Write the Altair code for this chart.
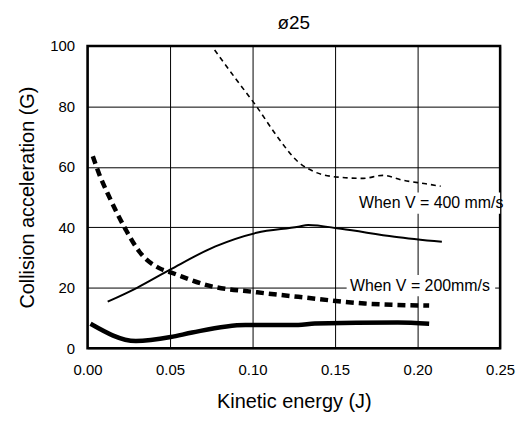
import altair as alt
import pandas as pd

# V = 400 mm/s, thin dashed
x400d = [0.077, 0.090, 0.1024, 0.115, 0.1277, 0.137, 0.152, 0.167, 0.179, 0.191, 0.205, 0.214]
y400d = [98.7, 89.0, 80.0, 70.0, 61.6, 58.5, 56.6, 56.2, 57.2, 55.6, 54.4, 53.6]
# V = 400 mm/s, thin solid
x400s = [0.0122, 0.030, 0.050, 0.0775, 0.1024, 0.1277, 0.1337, 0.1536, 0.186, 0.2147]
y400s = [15.4, 20.0, 26.0, 33.7, 38.2, 40.2, 40.8, 39.5, 36.9, 35.2]
# V = 200 mm/s, thick dashed
x200d = [0.0032, 0.0072, 0.0122, 0.0233, 0.0313, 0.0434, 0.0504, 0.0735, 0.1028, 0.1277, 0.1679, 0.207]
y200d = [63.5, 57.4, 51.2, 39.1, 32.0, 26.5, 25.1, 20.7, 18.5, 17.0, 14.8, 14.1]
# V = 200 mm/s, thick solid
x200s = [0.0018, 0.0293, 0.0504, 0.0634, 0.0956, 0.1277, 0.1377, 0.188, 0.207]
y200s = [8.1, 2.4, 3.7, 5.2, 7.7, 7.7, 8.2, 8.5, 8.1]

label_text = ["When V = 400 mm/s", "When V = 200mm/s"]
label_x = [0.1645, 0.159]
label_y = [48.0, 20.7]

FONT = "Liberation Sans"

def df(xs, ys):
    return pd.DataFrame({"x": xs, "y": ys})

xsc = alt.Scale(domain=[0, 0.25], nice=False)
ysc = alt.Scale(domain=[0, 100], nice=False)

xax = alt.Axis(values=[0, 0.05, 0.1, 0.15, 0.2, 0.25], format=".2f", title="Kinetic energy (J)",
               grid=True, gridColor="black", gridOpacity=1, gridWidth=1, ticks=False, domain=False,
               labelFlush=False, labelPadding=14, labelFontSize=15, labelColor="black",
               titleFontSize=20, titleFontWeight="normal", titlePadding=15, titleColor="black",
               labelFont=FONT, titleFont=FONT)
yax = alt.Axis(values=[0, 20, 40, 60, 80, 100], title="Collision acceleration (G)",
               grid=True, gridColor="black", gridOpacity=1, gridWidth=1, ticks=False, domain=False,
               labelFlush=False, labelPadding=13, labelFontSize=15, labelColor="black",
               titleFontSize=20, titleFontWeight="normal", titlePadding=12, titleColor="black",
               labelFont=FONT, titleFont=FONT)

X = alt.X("x:Q", scale=xsc, axis=xax)
Y = alt.Y("y:Q", scale=ysc, axis=yax)

def line(d, width, dash=None):
    kw = dict(color="black", strokeWidth=width, interpolate="monotone", clip=True)
    if dash:
        kw["strokeDash"] = dash
    return alt.Chart(d).mark_line(**kw).encode(x=X, y=Y)

l1 = line(df(x400d, y400d), 1.6, [5, 4])
l2 = line(df(x400s, y400s), 2)
l3 = line(df(x200d, y200d), 4.5, [8, 5])
l4 = line(df(x200s, y200s), 4.5)

lab = pd.DataFrame({"t": label_text, "x": label_x, "y": label_y})
lab["x1"] = [v - 0.002 for v in label_x]
lab["x2"] = [v + 0.088 for v in label_x]
lab["y1"] = [v - 3.5 for v in label_y]
lab["y2"] = [v + 3.5 for v in label_y]

boxes = alt.Chart(lab).mark_rect(color="white", clip=True).encode(
    x=alt.X("x1:Q", scale=xsc), x2="x2:Q", y=alt.Y("y1:Q", scale=ysc), y2="y2:Q")
texts = alt.Chart(lab).mark_text(align="left", baseline="middle", fontSize=16,
                                 font=FONT, color="black").encode(
    x=alt.X("x:Q", scale=xsc), y=alt.Y("y:Q", scale=ysc), text="t:N")

chart = alt.layer(l1, l2, l3, l4, boxes, texts).properties(
    width=415, height=304,
    title=alt.Title("ø25", fontSize=19, fontWeight="normal", font=FONT, color="black", offset=6),
    autosize=alt.AutoSizeParams(type="none"),
    padding={"left": 80, "top": 37, "right": 20, "bottom": 75},
).configure_view(stroke="black", strokeWidth=2.5)

chart.save("out.html", embed_options={"renderer": "svg", "actions": False})
